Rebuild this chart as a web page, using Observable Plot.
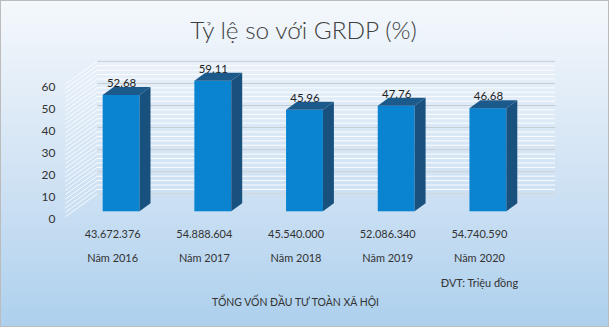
<!DOCTYPE html>
<html>
<head>
<meta charset="utf-8">
<script src="https://cdn.jsdelivr.net/npm/d3@7"></script>
<script src="https://cdn.jsdelivr.net/npm/@observablehq/plot@0.6"></script>
<style>
  html, body { margin: 0; padding: 0; }
  #wrap {
    position: relative; width: 609px; height: 327px; box-sizing: border-box;
    border: 1px solid #bcbcbc; overflow: hidden;
    background: linear-gradient(180deg, #f4f8fc 0%, #e4eef8 25%, #cce0f3 60%, #add0ed 100%);
  }
  #wrap svg { position: absolute; left: -1px; top: -1px; }
</style>
</head>
<body>
<div id="wrap"></div>
<script>
// ---- data ----
const years = ["Năm 2016", "Năm 2017", "Năm 2018", "Năm 2019", "Năm 2020"];
const ratio = [52.68, 59.11, 45.96, 47.76, 46.68];
const capital = ["43.672.376", "54.888.604", "45.540.000", "52.086.340", "54.740.590"];
const yTicks = [0, 10, 20, 30, 40, 50, 60];
const gridMinor = d3.range(0, 61, 2);
const chartTitle = "Tỷ lệ so với GRDP (%)";
const unitNote = "ĐVT: Triệu đồng";
const xTitle = "TỔNG VỐN ĐẦU TƯ TOÀN XÃ HỘI";

// ---- geometry helpers (pixel -> data units) ----
const W = 609, H = 327;
const xRange = [29.5, 581.5], xDomain = [-1, 5];
const yRange = [212, 79], yDomain = [0, 60];
const PX = (xRange[1] - xRange[0]) / (xDomain[1] - xDomain[0]);
const PY = (yRange[0] - yRange[1]) / (yDomain[1] - yDomain[0]);
const halfW = 18.5 / PX, dX = 11 / PX, dY = 8 / PY;
const sideL = (65 - 29.5) / PX - 1, backL = (97 - 29.5) / PX - 1, backR = (557 - 29.5) / PX - 1;
const backOff = 18 / PY, frontOff = 5 / PY;

const bars = ratio.map((v, i) => ({i, v, year: years[i], cap: capital[i]}));
const sideFace = bars.flatMap(d => [
  {i: d.i, x: d.i + halfW, y1: 0, y2: d.v},
  {i: d.i, x: d.i + halfW + dX, y1: dY, y2: d.v + dY}
]);
const topFace = bars.flatMap(d => [
  {i: d.i, x: d.i - halfW, y1: d.v, y2: d.v},
  {i: d.i, x: d.i - halfW + dX, y1: d.v, y2: d.v + dY},
  {i: d.i, x: d.i + halfW, y1: d.v, y2: d.v + dY},
  {i: d.i, x: d.i + halfW + dX, y1: d.v + dY, y2: d.v + dY}
]);

const font = "Lato, 'Open Sans', sans-serif";
const txt = "#333333";

const chart = Plot.plot({
  width: W, height: H,
  marginTop: 0, marginBottom: 0, marginLeft: 0, marginRight: 0,
  style: {background: "transparent", fontFamily: font, overflow: "visible"},
  x: {type: "linear", domain: xDomain, range: xRange, axis: null},
  y: {type: "linear", domain: yDomain, range: yRange, axis: null},
  marks: [
    Plot.ruleY(gridMinor, {y: d => d + backOff, x1: backL, x2: backR, stroke: "#ffffff", strokeOpacity: 0.9, strokeWidth: 1}),
    Plot.ruleY(yTicks, {y: d => d + backOff, x1: backL, x2: backR, stroke: "#c2cad2", strokeWidth: 1}),
    Plot.link(gridMinor, {x1: sideL, x2: backL, y1: d => d - frontOff, y2: d => d + backOff, stroke: "#ffffff", strokeOpacity: 0.85, strokeWidth: 1}),
    Plot.rect(bars, {x1: d => d.i - halfW, x2: d => d.i + halfW, y1: d => 0, y2: d => d.v, fill: "#0a84d1"}),
    Plot.area(sideFace, {x1: "x", y1: "y1", y2: "y2", z: "i", fill: "#18507e"}),
    Plot.area(topFace, {x1: "x", y1: "y1", y2: "y2", z: "i", fill: "#1c5a8b"}),
    Plot.text(bars, {x: "i", y: "v", dy: -12, text: d => d.v.toFixed(2), fontSize: 11.5, fill: "#222", fontFamily: font}),
    Plot.text(yTicks, {x: sideL, y: d => d, dx: -10, dy: 7.5, text: d => String(d), textAnchor: "end", fontSize: 12, fill: txt, fontFamily: font}),
    Plot.text(bars, {x: "i", y: d => 0, dx: -9, dy: 23, text: "cap", fontSize: 11, fill: txt, fontFamily: font}),
    Plot.text(bars, {x: "i", y: d => 0, dx: -9, dy: 47, text: "year", fontSize: 11, fill: txt, fontFamily: font}),
    Plot.text([unitNote], {x: 4, y: 0, dx: -9, dy: 72, text: d => d, fontSize: 11, fill: txt, fontFamily: font}),
    Plot.text([xTitle], {x: 2, y: 0, dx: -9.5, dy: 91, text: d => d, fontSize: 10.5, fill: txt, fontFamily: font}),
    Plot.text([chartTitle], {x: 2, frameAnchor: "top", lineAnchor: "middle", dx: -1.5, dy: 31, text: d => d, fontSize: 24.5, fontWeight: 300, fill: "#404040", fontFamily: font})
  ]
});
document.getElementById("wrap").appendChild(chart);
</script>
</body>
</html>
